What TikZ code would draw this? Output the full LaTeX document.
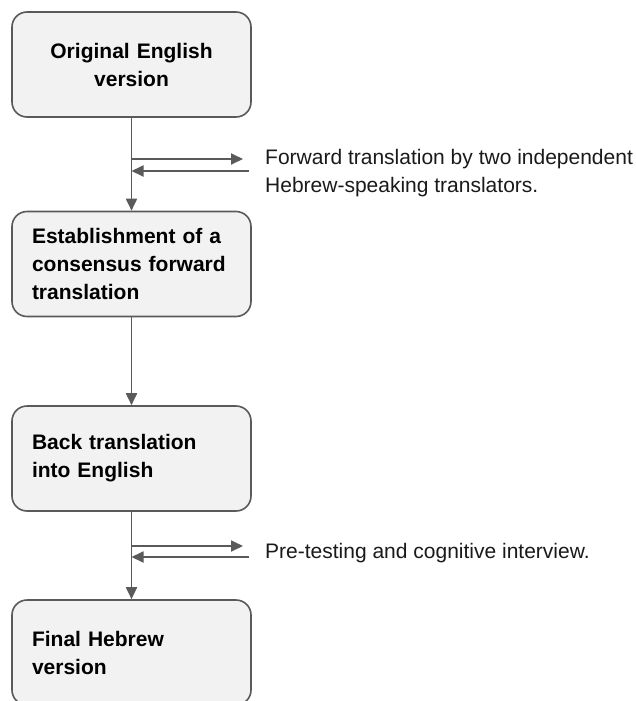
\documentclass[tikz,border=0pt]{standalone}
\usepackage{fontspec}
\setmainfont{Liberation Sans}
\usetikzlibrary{arrows.meta}
\definecolor{boxfill}{HTML}{F2F2F2}
\definecolor{edge}{HTML}{5A5A5A}
\definecolor{txt}{HTML}{1A1A1A}
\tikzset{
  box/.style={draw=edge, line width=1.6pt, fill=boxfill, rounded corners=15pt,
    minimum width=239pt, minimum height=105pt, inner xsep=20pt, inner ysep=0pt,
    text width=199pt, font=\fontsize{21}{28}\selectfont\bfseries, text=black},
  conn/.style={draw=edge, line width=1.8pt, -{Triangle[length=12pt,width=11pt]}},
  note/.style={font=\fontsize{21}{28}\selectfont, text=txt, align=left, inner sep=0pt, anchor=west}
}
\begin{document}
\begin{tikzpicture}[x=1pt,y=-1pt]
\clip (0,0) rectangle (635,701);
\fill[white] (0,0) rectangle (635,701);
\node[box, align=center] (b1) at (131.5,64.5) {Original English\\version};
\node[box, align=left] (b2) at (131.5,264) {Establishment of a\\consensus forward\\translation};
\node[box, align=left] (b3) at (131.5,458.5) {Back translation\\into English};
\node[box, align=left] (b4) at (131.5,652.5) {Final Hebrew\\version};
\draw[conn] (b1.south) -- (b2.north);
\draw[conn] (b2.south) -- (b3.north);
\draw[conn] (b3.south) -- (b4.north);
\node[note] (t1) at (265,173) {Forward translation by two independent\\Hebrew-speaking translators.};
\node[note] (t2) at (265,553) {Pre-testing and cognitive interview.};
\coordinate (s1) at (131.5,159);
\coordinate (r1) at (249,171);
\coordinate (s2) at (131.5,546);
\coordinate (r2) at (249,557);
\draw[conn] (s1) -- (s1 -| 243,0);
\draw[conn] (r1) -- (r1 -| b1.south);
\draw[conn] (s2) -- (s2 -| 243,0);
\draw[conn] (r2) -- (r2 -| b3.south);
\end{tikzpicture}
\end{document}
